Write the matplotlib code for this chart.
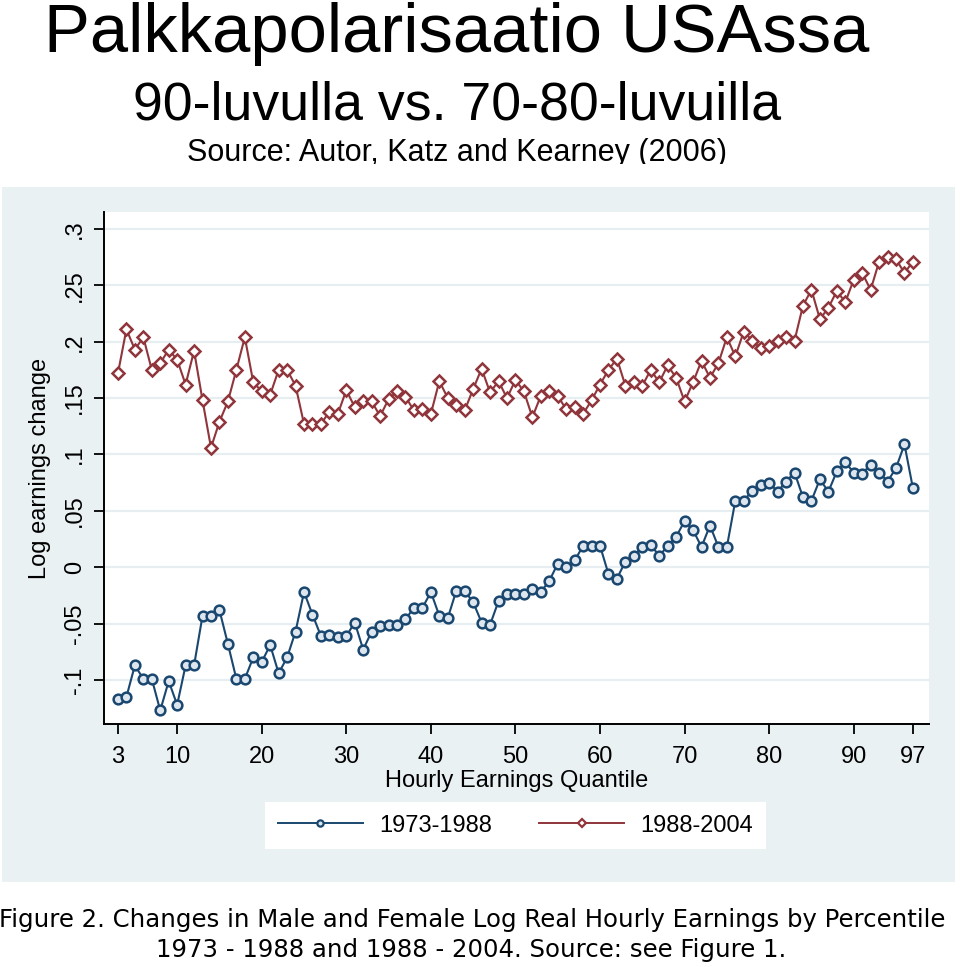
import matplotlib
matplotlib.use("Agg")
import matplotlib.pyplot as plt
from matplotlib.patches import Rectangle
from matplotlib.lines import Line2D
import numpy as np

quantiles = list(range(3, 98))

change_1973_1988 = [
    -0.117, -0.115, -0.087, -0.099, -0.099, -0.127, -0.101, -0.122, -0.087, -0.087,
    -0.043, -0.043, -0.038, -0.068, -0.099, -0.099, -0.080, -0.084, -0.069, -0.094,
    -0.080, -0.057, -0.022, -0.042, -0.061, -0.060, -0.062, -0.061, -0.049, -0.073,
    -0.057, -0.052, -0.051, -0.051, -0.046, -0.036, -0.036, -0.022, -0.043, -0.045,
    -0.021, -0.021, -0.031, -0.049, -0.051, -0.030, -0.024, -0.024, -0.024, -0.019,
    -0.022, -0.012, 0.003, 0.000, 0.006, 0.019, 0.019, 0.019, -0.006, -0.010,
    0.005, 0.010, 0.018, 0.020, 0.010, 0.019, 0.027, 0.041, 0.033, 0.018,
    0.037, 0.018, 0.018, 0.059, 0.059, 0.068, 0.073, 0.075, 0.067, 0.076,
    0.084, 0.062, 0.059, 0.078, 0.067, 0.085, 0.093, 0.084, 0.083, 0.091,
    0.084, 0.076, 0.088, 0.109, 0.070,
]

change_1988_2004 = [
    0.172, 0.211, 0.193, 0.204, 0.175, 0.181, 0.193, 0.184, 0.162, 0.192,
    0.148, 0.106, 0.129, 0.147, 0.175, 0.204, 0.164, 0.156, 0.153, 0.175,
    0.175, 0.161, 0.127, 0.127, 0.127, 0.138, 0.136, 0.157, 0.142, 0.147,
    0.147, 0.134, 0.149, 0.156, 0.151, 0.139, 0.140, 0.136, 0.165, 0.150,
    0.144, 0.139, 0.158, 0.176, 0.155, 0.165, 0.150, 0.166, 0.156, 0.133,
    0.152, 0.156, 0.152, 0.140, 0.142, 0.136, 0.148, 0.162, 0.175, 0.185,
    0.161, 0.164, 0.161, 0.175, 0.164, 0.179, 0.168, 0.147, 0.164, 0.183,
    0.168, 0.181, 0.204, 0.187, 0.209, 0.201, 0.194, 0.196, 0.201, 0.204,
    0.201, 0.232, 0.246, 0.220, 0.230, 0.245, 0.235, 0.255, 0.261, 0.246,
    0.271, 0.275, 0.273, 0.261, 0.271,
]

x_ticks = [3, 10, 20, 30, 40, 50, 60, 70, 80, 90, 97]
y_ticks = [-0.1, -0.05, 0.0, 0.05, 0.1, 0.15, 0.2, 0.25, 0.3]
y_tick_labels = ["-.1", "-.05", "0", ".05", ".1", ".15", ".2", ".25", ".3"]
series_labels = ["1973-1988", "1988-2004"]

title_lines = ["Palkkapolarisaatio USAssa", "90-luvulla vs. 70-80-luvuilla",
               "Source: Autor, Katz and Kearney (2006)"]
caption_lines = ["Figure 2. Changes in Male and Female Log Real Hourly Earnings by Percentile",
                 "1973 - 1988 and 1988 - 2004. Source: see Figure 1."]

W, H = 960, 967
fig = plt.figure(figsize=(W / 100, H / 100), dpi=100)
fig.patch.set_facecolor("white")

def fx(px):
    return px / W

def fy(py):
    return 1 - py / H

narrow = ["Liberation Sans Narrow", "Liberation Sans", "DejaVu Sans"]
sans = ["Liberation Sans", "DejaVu Sans"]

# Title lines (partially hidden by the panel, as in the source image)
fig.text(fx(457), fy(52), title_lines[0], ha="center", va="baseline",
         fontsize=49.5, family=sans, zorder=1)
fig.text(fx(457), fy(120), title_lines[1], ha="center", va="baseline",
         fontsize=38.6, family=sans, zorder=1)
fig.text(fx(457), fy(161), title_lines[2], ha="center", va="baseline",
         fontsize=22, family=sans, zorder=1)
# white strip that clips the source line
fig.patches.append(Rectangle((0, fy(187)), 1, fy(164) - fy(187), transform=fig.transFigure,
                             facecolor="white", edgecolor="none", zorder=2))
# graph panel background
fig.patches.append(Rectangle((fx(2), fy(882)), fx(955) - fx(2), fy(187) - fy(882),
                             transform=fig.transFigure, facecolor="#EAF1F3",
                             edgecolor="none", zorder=2))

ax = fig.add_axes([fx(104), fy(724), fx(929) - fx(104), fy(212) - fy(724)])
ax.set_zorder(3)
ax.set_facecolor("white")

navy = "#1A476F"
maroon = "#90353B"

ax.plot(quantiles, change_1973_1988, color=navy, lw=1.5, marker="o", ms=7,
        mfc="#DDE6EE", mec=navy, mew=1.8, label=series_labels[0], zorder=3)
ax.plot(quantiles, change_1988_2004, color=maroon, lw=1.5, marker="D", ms=6.6,
        mfc="white", mec=maroon, mew=1.8, label=series_labels[1], zorder=3)

ax.set_xlim(1.35, 98.9)
ax.set_ylim(-0.139, 0.315)
ax.set_xticks(x_ticks)
ax.set_xticklabels([str(v) for v in x_ticks], family=narrow, fontsize=17)
ax.set_yticks(y_ticks)
ax.set_yticklabels(y_tick_labels, family=narrow, fontsize=17, rotation=90, va="center")
ax.tick_params(axis="both", direction="out", length=7, width=1.3, color="black")
ax.tick_params(axis="x", pad=9)
ax.tick_params(axis="y", pad=6)

for s in ["top", "right"]:
    ax.spines[s].set_visible(False)
for s in ["left", "bottom"]:
    ax.spines[s].set_linewidth(1.4)
    ax.spines[s].set_color("black")

ax.grid(axis="y", color="#E6EEF1", lw=1.6)
ax.set_axisbelow(True)

ax.set_ylabel("Log earnings change", family=narrow, fontsize=17, labelpad=9)
ax.set_xlabel("Hourly Earnings Quantile", family=narrow, fontsize=17, labelpad=1)

handles = [
    Line2D([], [], color=navy, lw=1.4, marker="o", ms=4.5, mfc="#DDE6EE", mec=navy, mew=1.6),
    Line2D([], [], color=maroon, lw=1.4, marker="D", ms=4.5, mfc="white", mec=maroon, mew=1.6),
]
leg = fig.legend(handles, series_labels, loc="center",
                 bbox_to_anchor=(fx(515.5), fy(825.5)), ncol=2,
                 prop={"family": narrow, "size": 17},
                 frameon=True, fancybox=False, edgecolor="none", facecolor="white",
                 framealpha=1, handlelength=3.6, handletextpad=0.7, columnspacing=2.0,
                 borderpad=0.55, borderaxespad=0)
leg.set_zorder(4)

fig.text(fx(472), fy(927), caption_lines[0], ha="center", va="baseline",
         fontsize=17.6, family=["DejaVu Sans"], color="black", zorder=1)
fig.text(fx(471), fy(957), caption_lines[1], ha="center", va="baseline",
         fontsize=17.6, family=["DejaVu Sans"], color="black", zorder=1)

fig.savefig("out.png", dpi=100)
